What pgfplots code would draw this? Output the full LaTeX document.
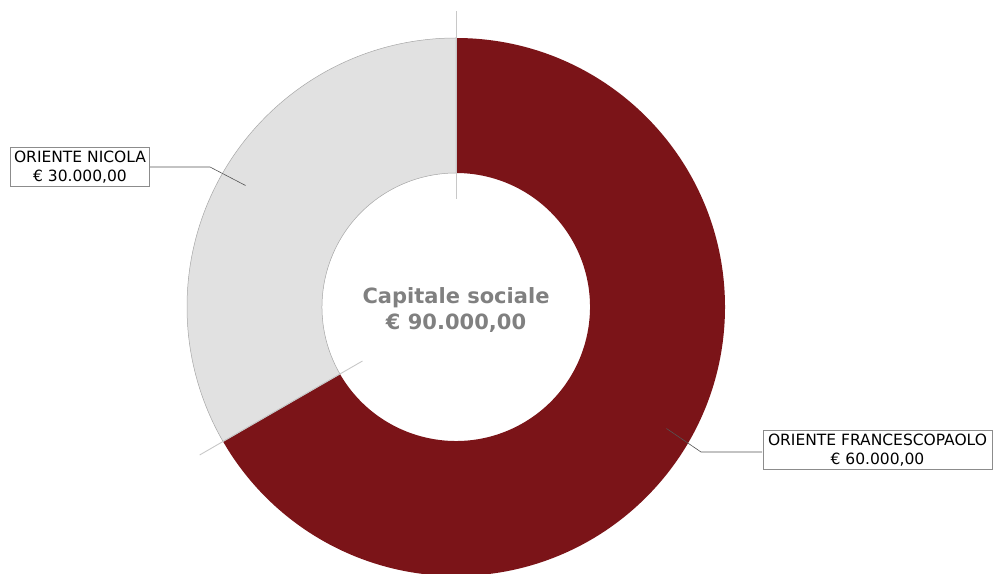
\documentclass[border=0pt]{standalone}
\usepackage{fontspec}
\setmainfont{DejaVu Sans}
\usepackage{pgfplots}
\pgfplotsset{compat=1.18}
\definecolor{slicered}{RGB}{123,20,24}
\definecolor{slicegrey}{RGB}{225,225,225}
\definecolor{centretext}{RGB}{128,128,128}
\definecolor{divider}{RGB}{200,200,200}
\definecolor{leader}{RGB}{85,85,85}
\definecolor{boxline}{RGB}{140,140,140}

% capitale sociale per socio, in migliaia di euro
\pgfmathsetmacro{\vA}{60} % ORIENTE FRANCESCOPAOLO
\pgfmathsetmacro{\vB}{30} % ORIENTE NICOLA
\pgfmathsetmacro{\aA}{360*(\vA/(\vA+\vB))}
\pgfmathsetmacro{\aB}{360*(\vB/(\vA+\vB))}
\pgfmathsetmacro{\endA}{90-\aA}
\pgfmathsetmacro{\endB}{90+\aB}
\pgfmathsetmacro{\midA}{90-\aA/2}
\pgfmathsetmacro{\midB}{90+\aB/2}
\def\cx{456}\def\cy{266}\def\Ro{269}\def\Ri{134}

\begin{document}
\begin{tikzpicture}
\begin{axis}[x=1pt, y=1pt, xmin=0, xmax=995, ymin=0, ymax=573,
    hide axis, clip=true]
% red slice
\fill[slicered] (axis cs:{\cx+\Ro*cos(90)},{\cy+\Ro*sin(90)})
  arc[start angle=90, end angle=\endA, radius=\Ro pt]
  -- (axis cs:{\cx+\Ri*cos(\endA)},{\cy+\Ri*sin(\endA)})
  arc[start angle=\endA, end angle=90, radius=\Ri pt] -- cycle;
% grey slice
\filldraw[fill=slicegrey, draw=gray!70, line width=0.5pt]
  (axis cs:{\cx+\Ro*cos(90)},{\cy+\Ro*sin(90)})
  arc[start angle=90, end angle=\endB, radius=\Ro pt]
  -- (axis cs:{\cx+\Ri*cos(\endB)},{\cy+\Ri*sin(\endB)})
  arc[start angle=\endB, end angle=90, radius=\Ri pt] -- cycle;
% slice dividers
\draw[divider, line width=0.9pt] (axis cs:{\cx+108*cos(90)},{\cy+108*sin(90)})
  -- (axis cs:{\cx+296*cos(90)},{\cy+296*sin(90)});
\draw[divider, line width=0.9pt] (axis cs:{\cx+108*cos(\endB)},{\cy+108*sin(\endB)})
  -- (axis cs:{\cx+296*cos(\endB)},{\cy+296*sin(\endB)});
% leaders
\draw[leader, line width=0.6pt] (axis cs:{\cx+243*cos(\midB)},{\cy+243*sin(\midB)})
  -- (axis cs:210,406) -- (axis cs:150,406);
\draw[leader, line width=0.6pt] (axis cs:{\cx+243*cos(\midA)},{\cy+243*sin(\midA)})
  -- (axis cs:701,121) -- (axis cs:762,121);
% labels
\node[draw=boxline, fill=white, align=center, inner xsep=3.5pt, inner ysep=3pt,
  line width=0.7pt, font=\fontsize{15.5}{19}\selectfont] at (axis cs:80,406)
  {ORIENTE NICOLA\\€ 30.000,00};
\node[draw=boxline, fill=white, align=center, inner xsep=5pt, inner ysep=3.5pt,
  line width=0.7pt, font=\fontsize{15.5}{19}\selectfont] at (axis cs:877.5,123)
  {ORIENTE FRANCESCOPAOLO\\€ 60.000,00};
\node[centretext, align=center, font=\bfseries\fontsize{21}{26}\selectfont]
  at (axis cs:456,263) {Capitale sociale\\€ 90.000,00};
\end{axis}
\pgfresetboundingbox
\useasboundingbox (current axis.south west) rectangle (current axis.north east);
\end{tikzpicture}
\end{document}
